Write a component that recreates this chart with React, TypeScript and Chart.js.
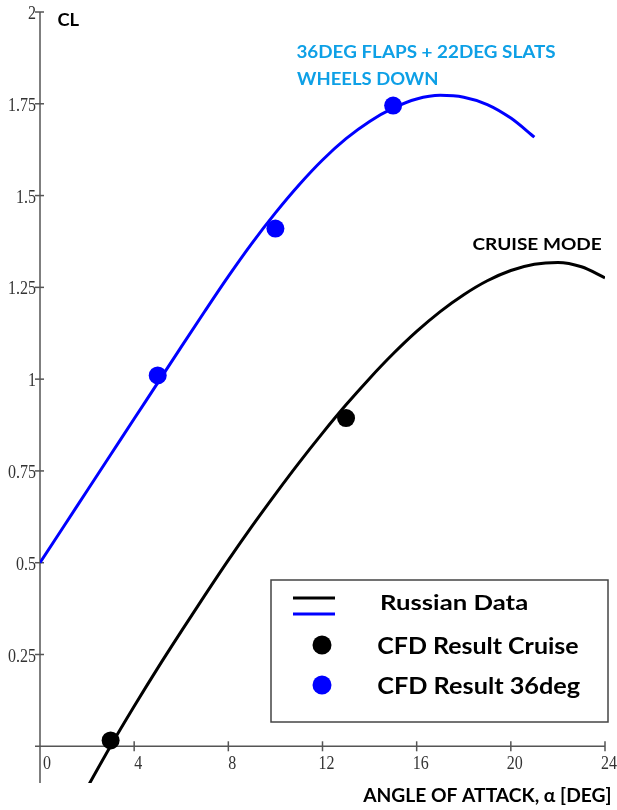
import React, { useEffect, useRef } from "react";
import { Chart, registerables } from "chart.js";

Chart.register(...registerables);

// ---- Data ----
const cruiseAoA = [2, 3, 4, 5, 6, 7, 8, 9, 10, 11, 12, 13, 14, 15, 16, 17, 18, 19, 20, 21, 22, 23, 24];
const cruiseCL = [-0.113, 0.001, 0.109, 0.213, 0.313, 0.411, 0.507, 0.599, 0.687, 0.772, 0.853, 0.93, 1.002, 1.069, 1.13, 1.184, 1.23, 1.268, 1.296, 1.313, 1.318, 1.306, 1.276];

const flapsAoA = [0, 1, 2, 3, 4, 5, 6, 7, 8, 9, 10, 11, 12, 13, 14, 15, 16, 17, 18, 19, 20, 21];
const flapsCL = [0.5, 0.598, 0.696, 0.794, 0.892, 0.99, 1.088, 1.185, 1.28, 1.37, 1.453, 1.529, 1.597, 1.655, 1.702, 1.738, 1.763, 1.773, 1.768, 1.748, 1.711, 1.659];

const cfdCruiseAoA = [3, 13];
const cfdCruiseCL = [0.016, 0.894];

const cfd36AoA = [5, 10, 15];
const cfd36CL = [1.01, 1.41, 1.745];

const xTickStep = 4;
const yTickStep = 0.25;

const legendLabels = ["Russian Data", "CFD Result Cruise", "CFD Result 36deg"];
const yAxisTitle = "CL";
const xAxisTitle = "ANGLE OF ATTACK, α [DEG]";
const flapsNote = ["36DEG FLAPS + 22DEG SLATS", "WHEELS DOWN"];
const cruiseNote = "CRUISE MODE";

const BLUE = "#0000ff";
const BLACK = "#000000";
const NOTE_BLUE = "#0ea0e6";
const AXIS = "#555555";
const TICK_TEXT = "#333333";

function fitText(ctx: CanvasRenderingContext2D, text: string, left: number, capMid: number, width: number, capH: number, color: string, family: string) {
  ctx.save();
  ctx.font = `bold 100px ${family}`;
  ctx.textAlign = "left";
  ctx.textBaseline = "alphabetic";
  const m = ctx.measureText(text);
  const inkW = m.actualBoundingBoxLeft + m.actualBoundingBoxRight;
  const h = ctx.measureText("H").actualBoundingBoxAscent;
  const sx = width / inkW;
  const sy = capH / h;
  ctx.translate(left, capMid + capH / 2);
  ctx.scale(sx, sy);
  ctx.fillStyle = color;
  ctx.fillText(text, m.actualBoundingBoxLeft, 0);
  ctx.restore();
}

function seg(ctx: CanvasRenderingContext2D, x1: number, y1: number, x2: number, y2: number) {
  ctx.beginPath();
  ctx.moveTo(x1, y1);
  ctx.lineTo(x2, y2);
  ctx.stroke();
}

function stretchedLabel(ctx: CanvasRenderingContext2D, text: string, x: number, y: number, align: CanvasTextAlign) {
  ctx.save();
  ctx.font = '16px "Liberation Serif"';
  ctx.fillStyle = TICK_TEXT;
  ctx.textAlign = align;
  ctx.textBaseline = "middle";
  ctx.translate(x, y);
  ctx.scale(1, 1.22);
  ctx.fillText(text, 0, 0);
  ctx.restore();
}

const axesPlugin = {
  id: "axesDecor",
  beforeDatasetsDraw(chart: any) {
    const ctx: CanvasRenderingContext2D = chart.ctx;
    const xs = chart.scales.x;
    const ys = chart.scales.y;
    const ca = chart.chartArea;
    const y0 = ys.getPixelForValue(0);
    ctx.save();
    ctx.strokeStyle = AXIS;
    ctx.lineWidth = 1.5;
    seg(ctx, ca.left, ca.top, ca.left, ca.bottom);
    seg(ctx, ca.left - 5, y0, ca.right, y0);
    ys.ticks.forEach((t: any) => {
      if (t.value <= 0) return;
      const py = ys.getPixelForValue(t.value);
      seg(ctx, ca.left - 5, py, ca.left + 4, py);
      stretchedLabel(ctx, String(+t.value.toFixed(2)), ca.left - 4, py + 2, "right");
    });
    xs.ticks.forEach((t: any) => {
      const px = xs.getPixelForValue(t.value);
      if (t.value > 0) seg(ctx, px, y0 - 5, px, y0 + 5);
      stretchedLabel(ctx, String(t.value), px + (t.value === 0 ? 7 : 4), y0 + 18, "center");
    });
    ctx.restore();
  },
  afterDraw(chart: any) {
    const ctx: CanvasRenderingContext2D = chart.ctx;
    const fam = "Lato";
    // titles and notes
    fitText(ctx, yAxisTitle, 58, 19.5, 21, 13, BLACK, fam);
    fitText(ctx, flapsNote[0], 297, 51.5, 258, 13, NOTE_BLUE, fam);
    fitText(ctx, flapsNote[1], 297, 78.5, 140, 13, NOTE_BLUE, fam);
    fitText(ctx, cruiseNote, 473, 244, 128, 12, BLACK, fam);
    fitText(ctx, xAxisTitle, 363, 795, 247, 14, BLACK, fam);

    // legend box
    ctx.save();
    ctx.fillStyle = "#ffffff";
    ctx.fillRect(271, 580, 337, 142);
    ctx.strokeStyle = "#444444";
    ctx.lineWidth = 1.5;
    ctx.strokeRect(271, 580, 337, 142);
    const ds = chart.data.datasets;
    ctx.lineWidth = 3;
    ctx.strokeStyle = ds[0].borderColor;
    seg(ctx, 293, 598, 335, 598);
    ctx.strokeStyle = ds[1].borderColor;
    seg(ctx, 293, 614, 335, 614);
    ctx.fillStyle = ds[2].backgroundColor;
    ctx.beginPath();
    ctx.arc(322, 645, 9.5, 0, Math.PI * 2);
    ctx.fill();
    ctx.fillStyle = ds[3].backgroundColor;
    ctx.beginPath();
    ctx.arc(322, 685, 9.5, 0, Math.PI * 2);
    ctx.fill();
    ctx.restore();
    fitText(ctx, legendLabels[0], 382, 602.5, 145, 15, BLACK, fam);
    fitText(ctx, legendLabels[1], 378, 646, 200, 16, BLACK, fam);
    fitText(ctx, legendLabels[2], 378, 686, 202, 16, BLACK, fam);
  },
};

export default function App() {
  const ref = useRef<HTMLCanvasElement | null>(null);
  useEffect(() => {
    if (!ref.current) return;
    const toXY = (xs: number[], ys: number[]) => xs.map((x, i) => ({ x, y: ys[i] }));
    const chart = new Chart(ref.current, {
      type: "line",
      data: {
        datasets: [
          {
            label: "Russian Data (cruise)",
            data: toXY(cruiseAoA, cruiseCL),
            borderColor: BLACK,
            backgroundColor: BLACK,
            borderWidth: 3,
            pointRadius: 0,
            cubicInterpolationMode: "monotone",
            order: 2,
          },
          {
            label: "Russian Data (36deg)",
            data: toXY(flapsAoA, flapsCL),
            borderColor: BLUE,
            backgroundColor: BLUE,
            borderWidth: 3,
            pointRadius: 0,
            cubicInterpolationMode: "monotone",
            order: 2,
          },
          {
            label: legendLabels[1],
            data: toXY(cfdCruiseAoA, cfdCruiseCL),
            showLine: false,
            borderColor: BLACK,
            backgroundColor: BLACK,
            pointRadius: 9,
            pointBorderWidth: 0,
            order: 1,
          },
          {
            label: legendLabels[2],
            data: toXY(cfd36AoA, cfd36CL),
            showLine: false,
            borderColor: BLUE,
            backgroundColor: BLUE,
            pointRadius: 9,
            pointBorderWidth: 0,
            order: 1,
          },
        ],
      } as any,
      options: {
        responsive: false,
        animation: false,
        devicePixelRatio: 1,
        layout: { padding: { top: 12, right: 12, bottom: 27, left: 0 } },
        plugins: { legend: { display: false }, tooltip: { enabled: false } },
        scales: {
          x: {
            type: "linear",
            min: 0,
            max: 24,
            ticks: { stepSize: xTickStep, display: false },
            grid: { display: false },
            border: { display: false },
            afterFit: (s: any) => {
              s.height = 0;
            },
          },
          y: {
            type: "linear",
            min: -0.1,
            max: 2,
            ticks: { stepSize: yTickStep, display: false },
            grid: { display: false },
            border: { display: false },
            afterFit: (s: any) => {
              s.width = 40;
            },
            afterBuildTicks: (s: any) => {
              s.ticks = s.ticks.filter((t: any) => t.value >= 0);
            },
          },
        },
      } as any,
      plugins: [axesPlugin],
    });
    return () => chart.destroy();
  }, []);
  return (
    <div style={{ position: "absolute", left: 0, top: 0, width: 617, height: 810, background: "#fff" }}>
      <canvas ref={ref} width={617} height={810} style={{ display: "block" }} />
    </div>
  );
}
